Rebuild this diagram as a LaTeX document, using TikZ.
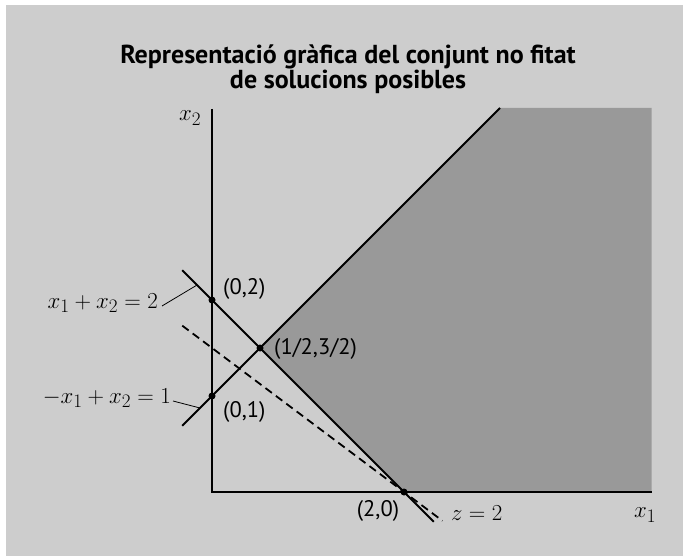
\documentclass[tikz,border=0pt]{standalone}
\usepackage{graphicx}
\usepackage{fontspec}
\setsansfont{PT Sans}
\definecolor{bggray}{HTML}{CDCDCD}
\definecolor{regiongray}{HTML}{999999}
\newcommand{\eqtxt}[1]{\scalebox{0.92}{$#1$}}
\tikzset{
  bgrect/.style={fill=bggray, draw=none},
  region/.style={fill=regiongray, draw=none},
  axisline/.style={draw=black, line width=1.1pt},
  constr/.style={draw=black, line width=2pt},
  objline/.style={draw=black, line width=1.8pt, dash pattern=on 8pt off 5pt},
  leader/.style={draw=black, line width=0.8pt},
  dotpt/.style={circle, fill=black, inner sep=0pt, minimum size=7pt},
  ptlabel/.style={font=\sffamily\fontsize{22.5}{26}\selectfont, inner sep=1pt},
  eqlabel/.style={font=\fontsize{24.88}{28}\selectfont, inner sep=1pt},
  titletext/.style={font=\sffamily\bfseries\fontsize{26}{25}\selectfont, align=center}
}
\begin{document}
\begin{tikzpicture}[x=1pt,y=-1pt]
\useasboundingbox (0,0) rectangle (683,556);
\fill[bgrect] (6,5) rectangle (683,556);

\begin{scope}[shift={(212,492)}, x=96pt, y=96pt]
  \coordinate (O) at (0,0);
  \coordinate (A) at (0,2);
  \coordinate (B) at (0,1);
  \coordinate (C) at (0.5,1.5);
  \coordinate (D) at (2,0);
  \coordinate (T) at (3,4);
  \coordinate (RT) at (4.58,4);
  \coordinate (RB) at (4.58,0);
  \coordinate (Ytop) at (0,3.99);
  \coordinate (L1s) at (-0.31,0.69);
  \coordinate (L2s) at (-0.31,2.31);
  \coordinate (L2e) at (2.31,-0.31);
  \coordinate (Zs) at (-0.31,1.7325);
  \coordinate (Ze) at (2.4,-0.3);
  \coordinate (P1) at (-0.156,2.156);
  \coordinate (P2) at (-0.125,0.875);

  \fill[region] (C) -- (T) -- (RT) -- (RB) -- (D) -- cycle;
  \draw[axisline] (Ytop) -- (O) -- (RB);
  \draw[objline] (Zs) -- (Ze);
  \draw[constr] (L1s) -- (T);
  \draw[constr] (L2s) -- (L2e);
  \node[dotpt] (dA) at (A) {};
  \node[dotpt] (dB) at (B) {};
  \node[dotpt] (dC) at (C) {};
  \node[dotpt] (dD) at (D) {};
\end{scope}

\node[titletext] (title) at (348,69.5) {Representació gràfica del conjunt no fitat\\de solucions posibles};

\node[eqlabel] (x2) at (190,118) {\eqtxt{x_2}};
\node[eqlabel] (x1) at (645,515) {\eqtxt{x_1}};

\node[ptlabel, anchor=west] (lA) at (222,289) {(0,2)};
\node[ptlabel, anchor=west] (lB) at (222,412) {(0,1)};
\node[ptlabel, anchor=west] (lC) at (273,349) {(1/2,3/2)};
\node[ptlabel] (lD) at (378,511) {(2,0)};
\node[eqlabel, anchor=west] (lZ) at (450,513) {\eqtxt{z = 2}};

\node[eqlabel, anchor=east] (e1) at (159,303) {\eqtxt{x_1 + x_2 = 2}};
\node[eqlabel, anchor=east] (e2) at (172,398) {\eqtxt{-x_1 + x_2 = 1}};
\draw[leader] ([xshift=3pt,yshift=-3pt]e1.east) -- (P1);
\draw[leader] ([xshift=1pt,yshift=-3pt]e2.east) -- (P2);
\end{tikzpicture}
\end{document}
